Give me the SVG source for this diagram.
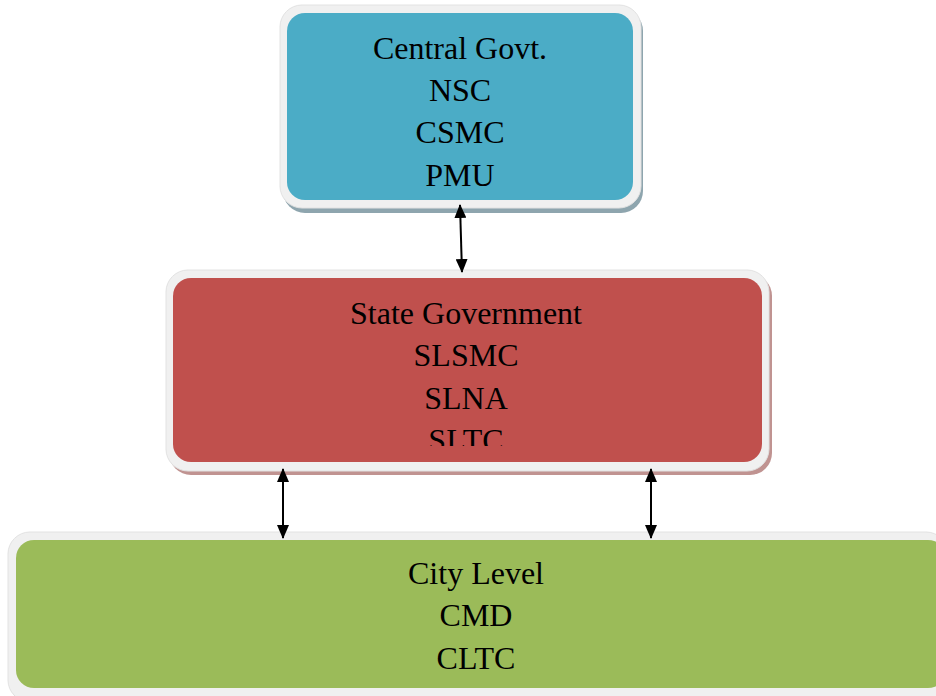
<svg xmlns="http://www.w3.org/2000/svg" width="936" height="696" viewBox="0 0 936 696">
<defs>
<style>
.frame{fill:#f0f0f0;stroke:#e2e2e2;stroke-width:1}
.t{font-family:"Liberation Serif","Times New Roman",serif;font-size:32px;fill:#000;text-anchor:middle}
.c{stroke:#000;stroke-width:2;fill:none}
</style>
<marker id="ah" markerWidth="14" markerHeight="12" refX="13" refY="6" orient="auto-start-reverse" markerUnits="userSpaceOnUse">
<path d="M0,0 L14,6 L0,12 Z" fill="#000"/>
</marker>
<clipPath id="clipState"><rect x="173" y="278" width="589" height="168"/></clipPath>
</defs>
<rect width="936" height="696" fill="#fff"/>
<g id="central">
<rect x="283" y="9" width="360" height="204" rx="22" fill="#8ea5ae"/>
<rect x="280" y="5" width="361" height="203" rx="22" class="frame"/>
<rect x="287" y="13" width="346" height="187" rx="18" fill="#4bacc6"/>
<text class="t" x="460" y="59">Central Govt.</text>
<text class="t" x="460" y="101">NSC</text>
<text class="t" x="460" y="143">CSMC</text>
<text class="t" x="460" y="186">PMU</text>
</g>
<g id="state">
<rect x="169" y="274" width="603" height="201" rx="22" fill="#c09391"/>
<rect x="166" y="270" width="603" height="201" rx="22" class="frame"/>
<rect x="173" y="278" width="589" height="184" rx="18" fill="#c0504d"/>
<g clip-path="url(#clipState)">
<text class="t" x="466" y="324">State Government</text>
<text class="t" x="466" y="366">SLSMC</text>
<text class="t" x="466" y="409">SLNA</text>
<text class="t" x="466" y="451">SLTC</text>
</g>
</g>
<g id="city">
<rect x="11" y="536" width="940" height="170" rx="22" fill="#a9b692"/>
<rect x="8" y="532" width="940" height="170" rx="22" class="frame"/>
<rect x="16" y="540" width="930" height="148" rx="18" fill="#9bbb59"/>
<text class="t" x="476" y="584">City Level</text>
<text class="t" x="476" y="626">CMD</text>
<text class="t" x="476" y="669">CLTC</text>
</g>
<g id="connectors">
<line class="c" x1="460" y1="205" x2="462" y2="272" marker-start="url(#ah)" marker-end="url(#ah)"/>
<line class="c" x1="283" y1="469" x2="283" y2="538" marker-start="url(#ah)" marker-end="url(#ah)"/>
<line class="c" x1="651" y1="469" x2="651" y2="538" marker-start="url(#ah)" marker-end="url(#ah)"/>
</g>
</svg>
